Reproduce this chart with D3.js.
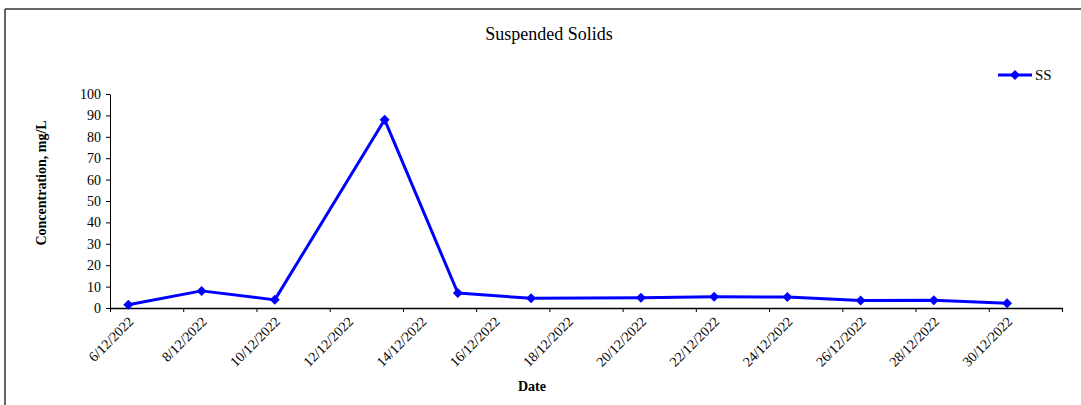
<!DOCTYPE html>
<html>
<head>
<meta charset="utf-8">
<script src="https://cdn.jsdelivr.net/npm/d3@7"></script>
<style>
  body { margin: 0; background: #fff; }
  svg { display: block; font-family: "Liberation Serif", "Times New Roman", serif; }
</style>
</head>
<body>
<script>
var dates = ["2022-12-06", "2022-12-08", "2022-12-10", "2022-12-13", "2022-12-15", "2022-12-17",
             "2022-12-20", "2022-12-22", "2022-12-24", "2022-12-26", "2022-12-28", "2022-12-30"];
var ssValues = [1.5, 8, 3.8, 88, 7, 4.5, 4.8, 5.2, 5.1, 3.5, 3.6, 2.2];
var yTicks = [0, 10, 20, 30, 40, 50, 60, 70, 80, 90, 100];

var width = 1081, height = 405;
var plotLeft = 110, plotRight = 1062, plotTop = 94, plotBottom = 308;

var svg = d3.select("body").append("svg").attr("width", width).attr("height", height);

// chart frame (top and left edges visible)
svg.append("line").attr("x1", 5).attr("y1", 9).attr("x2", width).attr("y2", 9)
      .attr("stroke", "#333").attr("stroke-width", 1.5);
svg.append("line").attr("x1", 5).attr("y1", 9).attr("x2", 5).attr("y2", height)
      .attr("stroke", "#333").attr("stroke-width", 1.5);

var parse = d3.utcParse("%Y-%m-%d");
var fmt = d3.utcFormat("%-d/%m/%Y");
var start = parse("2022-12-06"), end = parse("2023-01-01");

var x = d3.scaleUtc().domain([start, end]).range([plotLeft, plotRight]);
var y = d3.scaleLinear().domain([0, 100]).range([plotBottom, plotTop]);

// ticks every 2 days starting 6/12, last one (1/1) unlabeled
var tickDates = d3.range(0, 27, 2).map(function (i) { return d3.utcDay.offset(start, i); });

// x axis
var xAxis = svg.append("g").attr("transform", "translate(0," + plotBottom + ")")
      .call(d3.axisBottom(x).tickValues(tickDates).tickSize(4).tickSizeOuter(0).tickFormat(""));
xAxis.select(".domain").attr("stroke", "#000").attr("stroke-width", 1.5);
xAxis.selectAll(".tick line").attr("stroke", "#000");

svg.append("g").selectAll("text")
      .data(tickDates.slice(0, -1))
      .enter().append("text")
      .attr("transform", function (d) { return "translate(" + (x(d) + 21) + "," + (plotBottom + 11) + ") rotate(-45)"; })
      .attr("text-anchor", "end")
      .attr("dy", "0.35em")
      .attr("font-size", 14)
      .attr("fill", "#000")
      .text(function (d) { return fmt(d); });

// y axis
var yAxis = svg.append("g").attr("transform", "translate(" + plotLeft + ",0)")
      .call(d3.axisLeft(y).tickValues(yTicks).tickSize(4).tickSizeOuter(0).tickPadding(5));
yAxis.select(".domain").attr("stroke", "#000");
yAxis.selectAll(".tick line").attr("stroke", "#000");
yAxis.selectAll(".tick text").attr("font-size", 14).attr("font-family", "Liberation Serif").attr("fill", "#000");

// series
var points = dates.map(function (d, i) { return { date: d3.utcHour.offset(parse(d), 12), value: ssValues[i] }; });

svg.append("path")
      .datum(points)
      .attr("fill", "none")
      .attr("stroke", "#0000ff")
      .attr("stroke-width", 3)
      .attr("stroke-linejoin", "round")
      .attr("d", d3.line().x(function (d) { return x(d.date); }).y(function (d) { return y(d.value); }));

var diamond = d3.symbol().type(d3.symbolSquare).size(50);
svg.append("g").selectAll("path")
      .data(points)
      .enter().append("path")
      .attr("d", diamond)
      .attr("fill", "#0000ff")
      .attr("transform", function (d) { return "translate(" + x(d.date) + "," + y(d.value) + ") rotate(45)"; });

// titles
svg.append("text").attr("x", 549).attr("y", 40).attr("text-anchor", "middle")
      .attr("font-size", 18).text("Suspended Solids");
svg.append("text").attr("x", 532).attr("y", 391).attr("text-anchor", "middle")
      .attr("font-size", 14).attr("font-weight", "bold").text("Date");
svg.append("text").attr("transform", "translate(46,183) rotate(-90)").attr("text-anchor", "middle")
      .attr("font-size", 14).attr("font-weight", "bold").text("Concentration, mg/L");

// legend
var lg = svg.append("g").attr("transform", "translate(998,75)");
lg.append("line").attr("x1", 0).attr("x2", 34).attr("y1", 0).attr("y2", 0)
      .attr("stroke", "#0000ff").attr("stroke-width", 3);
lg.append("path").attr("d", diamond).attr("fill", "#0000ff")
      .attr("transform", "translate(17,0) rotate(45)");
lg.append("text").attr("x", 37).attr("y", 0).attr("dy", "0.35em").attr("font-size", 15).text("SS");
</script>
</body>
</html>
